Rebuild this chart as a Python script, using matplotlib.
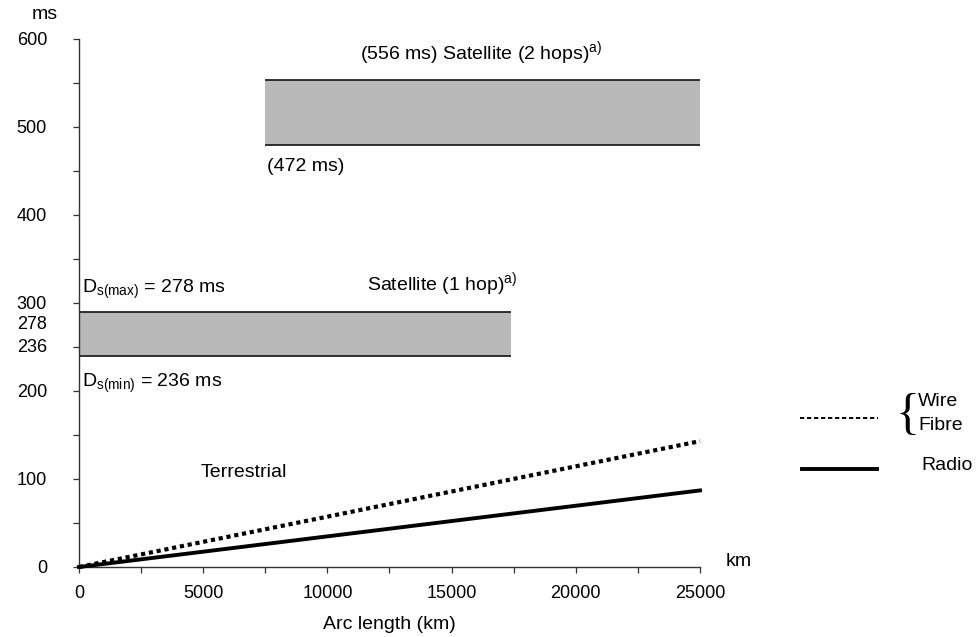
import matplotlib.pyplot as plt
from matplotlib.lines import Line2D
from matplotlib.ticker import MultipleLocator

plt.rcParams['font.family'] = ['Liberation Sans', 'DejaVu Sans']
plt.rcParams['mathtext.fontset'] = 'custom'
plt.rcParams['mathtext.rm'] = 'Liberation Sans'
plt.rcParams['mathtext.it'] = 'Liberation Sans'

FS = 14      # annotation text
TFS = 13     # tick labels

# ==========================
# DATA
# ==========================
arc_km = [0, 25000]
wire_fibre_ms = [0, 143]
radio_ms = [0, 87]

# satellite bands: x range (km), delay range (ms)
sat1_x = [0, 17400]
sat1_ms = [240, 290]
sat2_x = [7500, 25000]
sat2_ms = [479, 553]

y_ticks = [0, 100, 200, 300, 400, 500, 600]
x_ticks = [0, 5000, 10000, 15000, 20000, 25000]

# ==========================
# Plot
# ==========================
fig = plt.figure(figsize=(9.79, 6.37), dpi=100)
ax = fig.add_axes([0.0807, 0.1099, 0.6343, 0.8289])

band_fill = '#b9b9b9'
for bx, by in [(sat1_x, sat1_ms), (sat2_x, sat2_ms)]:
    ax.fill_between(bx, by[0], by[1], color=band_fill, lw=0, zorder=1)
    ax.hlines(by, bx[0], bx[1], color='#222222', lw=1.3, zorder=2)

ax.plot(arc_km, wire_fibre_ms, color='black', lw=3, ls=(0, (1, 0.9)),
        clip_on=False, zorder=3)
ax.plot(arc_km, radio_ms, color='black', lw=2.8, clip_on=False, zorder=3)

ax.set_xlim(0, 25000)
ax.set_ylim(0, 600)
ax.set_xticks(x_ticks)
ax.set_yticks(y_ticks)
ax.xaxis.set_minor_locator(MultipleLocator(2500))
ax.yaxis.set_minor_locator(MultipleLocator(50))

for s in ['top', 'right']:
    ax.spines[s].set_visible(False)
for s in ['left', 'bottom']:
    ax.spines[s].set_color('#333333')
    ax.spines[s].set_linewidth(1.0)

ax.tick_params(axis='both', which='both', direction='out', length=4,
               width=0.9, color='#333333', labelsize=TFS)
ax.tick_params(axis='y', which='both', pad=19)
ax.tick_params(axis='x', which='both', pad=9)

ax.set_xlabel('Arc length (km)', fontsize=FS, labelpad=10)

# extra axis texts (squeezed between the 300 and 200 ticks)
ytr = ax.get_yaxis_transform()
ax.text(-0.0515, 276, '278', transform=ytr, ha='right', va='center',
        fontsize=TFS)
ax.text(-0.0515, 249, '236', transform=ytr, ha='right', va='center',
        fontsize=TFS)
ax.text(-0.055, 628, 'ms', transform=ytr, ha='center', va='center', fontsize=FS,
        clip_on=False)
ax.text(26550, 6, 'km', ha='center', va='center', fontsize=FS, clip_on=False)

# annotations
ax.text(11300, 584, '(556 ms) Satellite (2 hops)$^{\\mathrm{a)}}$',
        ha='left', va='center', fontsize=FS)
ax.text(7550, 455, '(472 ms)', ha='left', va='center', fontsize=FS)
ax.text(11590, 321, 'Satellite (1 hop)$^{\\mathrm{a)}}$',
        ha='left', va='center', fontsize=FS)
ax.text(130, 316, 'D$_{\\mathrm{s(max)}}$ = 278 ms', ha='left', va='center',
        fontsize=FS)
ax.text(130, 209, 'D$_{\\mathrm{s(min)}}$ = 236 ms', ha='left', va='center',
        fontsize=FS)
ax.text(6640, 107, 'Terrestrial', ha='center', va='center', fontsize=FS)

# legend drawn by hand on the right
W, H = 979, 637
fig.add_artist(Line2D([800 / W, 878 / W], [1 - 418 / H, 1 - 418 / H],
                      color='black', lw=1.4, ls=(0, (2.2, 1.4)),
                      transform=fig.transFigure))
fig.add_artist(Line2D([802 / W, 877 / W], [1 - 469 / H, 1 - 469 / H],
                      color='black', lw=2.8, transform=fig.transFigure))
fig.text(908 / W, 1 - 416 / H, '{', ha='center', va='center', fontsize=36,
         family='Liberation Serif')
fig.text(918 / W, 1 - 402 / H, 'Wire', ha='left', va='center', fontsize=FS)
fig.text(918 / W, 1 - 425 / H, 'Fibre', ha='left', va='center', fontsize=FS)
fig.text(921 / W, 1 - 465 / H, 'Radio', ha='left', va='center', fontsize=FS)

fig.savefig('out.png', dpi=100)
